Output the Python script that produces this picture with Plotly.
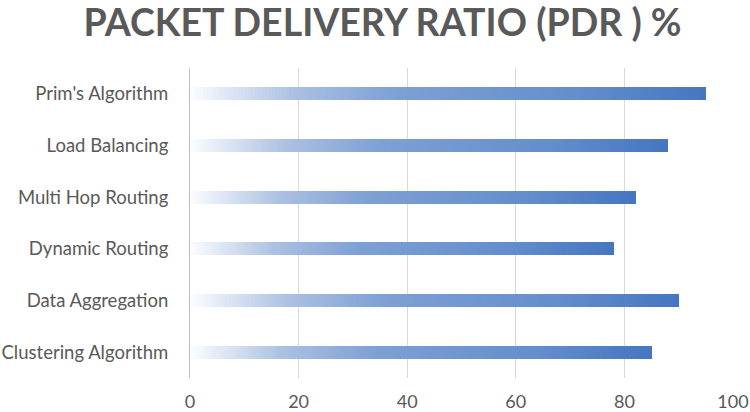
import plotly.graph_objects as go

# du lieu
categories = ["Clustering Algorithm", "Data Aggregation", "Dynamic Routing",
              "Multi Hop Routing", "Load Balancing", "Prim's Algorithm"]
pdr_values = [85, 90, 78, 82, 88, 95]
x_ticks = [0, 20, 40, 60, 80, 100]

# diem mau cua gradient (ti le doan, mau rgb)
grad_stops = [(0.0, (252, 253, 255)), (0.2, (172, 193, 226)), (0.4, (126, 160, 212)),
              (0.75, (100, 142, 204)), (1.0, (70, 118, 193))]
n_steps = 150


def grad_color(t):
    for (t0, c0), (t1, c1) in zip(grad_stops[:-1], grad_stops[1:]):
        if t <= t1:
            f = (t - t0) / (t1 - t0)
            c = [round(a + (b - a) * f) for a, b in zip(c0, c1)]
            return f"rgb({c[0]},{c[1]},{c[2]})"
    c = grad_stops[-1][1]
    return f"rgb({c[0]},{c[1]},{c[2]})"


fig = go.Figure()

# moi thanh duoc chia thanh n_steps doan xep chong (stack), mau nhat -> dam
for k in range(n_steps):
    col = grad_color((k + 0.5) / n_steps)
    fig.add_trace(go.Bar(
        y=categories,
        x=[v / n_steps for v in pdr_values],
        orientation='h',
        width=0.23,
        marker=dict(color=col, line=dict(width=1, color=col)),  # vien cung mau de che khe
        showlegend=False,
        hoverinfo='skip'
    ))

fig.update_layout(
    width=750, height=412,
    barmode='stack',
    plot_bgcolor='white', paper_bgcolor='white',
    margin=dict(l=190, r=17, t=68, b=34, autoexpand=False),
    title=dict(text="<b>PACKET DELIVERY RATIO (PDR ) %</b>",
               font=dict(family="Lato", size=37.5, color="#595959"),
               x=0.51, xanchor='center', y=0.977, yanchor='top'),
    font=dict(family="Lato", size=18.5, color="#595959"),
)

fig.update_xaxes(range=[0, 100], tickvals=x_ticks, showgrid=True,
                 gridcolor='#d9d9d9', gridwidth=1, zeroline=False,
                 showline=False, ticks='', ticklabelstandoff=11,
                 tickfont=dict(size=18),
                 automargin=False, ticklabeloverflow='allow')
fig.update_yaxes(categoryorder='array', categoryarray=categories,
                 showgrid=False, showline=True, linecolor='#bfbfbf', linewidth=1,
                 ticks='', ticklabelstandoff=17, automargin=False)

# bo le mac dinh cua body de hinh nam sat goc trai tren
fig.write_html("out.html", config={'displayModeBar': False},
               post_script="document.body.style.margin='0';")
